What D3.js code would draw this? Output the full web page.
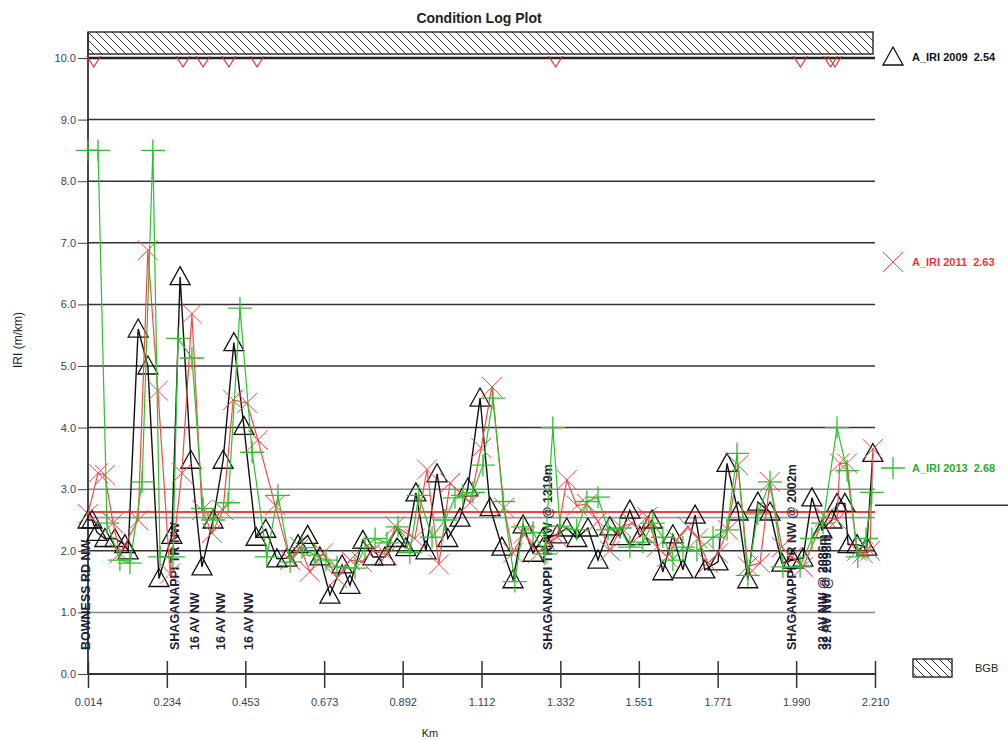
<!DOCTYPE html>
<html><head><meta charset="utf-8">
<script src="https://cdn.jsdelivr.net/npm/d3@7"></script>
<style>body{margin:0;background:#fff;} text{font-family:Arial,"Liberation Sans",sans-serif;}</style>
</head><body><svg id="c" width="1008" height="740"></svg>
<script>
// ---------- data ----------
const xTicks = [0.014,0.234,0.453,0.673,0.892,1.112,1.332,1.551,1.771,1.990,2.210];
const yTicks = [0,1,2,3,4,5,6,7,8,9,10];

const km2009 = [0.014,0.025,0.039,0.061,0.089,0.117,0.126,0.154,0.181,0.212,0.248,0.271,0.301,0.332,0.363,0.391,0.421,0.449,0.483,0.510,0.541,0.569,0.600,0.627,0.661,0.689,0.723,0.745,0.781,0.809,0.843,0.876,0.901,0.929,0.957,0.988,1.018,1.052,1.074,1.108,1.136,1.169,1.200,1.228,1.256,1.283,1.323,1.350,1.378,1.409,1.437,1.470,1.498,1.526,1.554,1.588,1.618,1.646,1.674,1.708,1.735,1.772,1.797,1.828,1.855,1.883,1.917,1.950,1.981,2.009,2.034,2.062,2.090,2.104,2.126,2.135,2.160,2.187,2.204];
const iri2009 = [2.5,2.5,2.3,2.2,2.2,2.1,2.0,5.6,5.0,1.55,2.25,6.45,3.47,1.74,2.5,3.47,5.38,4.02,2.22,2.35,1.87,1.88,2.1,2.25,1.9,1.28,1.77,1.44,2.17,1.9,1.9,2.2,2.05,2.94,2.0,3.25,2.2,2.53,3.02,4.48,2.7,2.06,1.53,2.42,1.96,2.2,2.26,2.37,2.2,2.37,1.85,2.39,2.23,2.66,2.23,2.5,1.66,2.26,1.69,2.58,1.69,1.82,3.42,2.63,1.53,2.79,2.63,1.8,1.85,1.88,2.86,2.34,2.5,2.77,2.77,2.1,2.1,2.06,3.58];

const km2011 = [0.014,0.042,0.061,0.084,0.103,0.154,0.181,0.209,0.243,0.276,0.304,0.332,0.360,0.391,0.419,0.458,0.488,0.536,0.578,0.606,0.633,0.670,0.709,0.745,0.778,0.809,0.848,0.871,0.926,0.960,0.993,1.024,1.080,1.111,1.141,1.175,1.200,1.230,1.270,1.297,1.323,1.350,1.378,1.406,1.437,1.470,1.501,1.532,1.560,1.574,1.602,1.630,1.657,1.688,1.716,1.744,1.772,1.800,1.828,1.855,1.889,1.917,1.950,1.978,2.009,2.070,2.104,2.112,2.132,2.160,2.176,2.196,2.204];
const iri2011 = [2.6,3.26,3.23,2.45,1.96,2.5,6.88,4.6,1.63,3.26,5.85,2.66,2.29,2.66,4.45,4.4,3.8,2.74,1.85,2.06,1.66,1.96,1.56,1.85,1.82,2.0,1.93,2.4,2.2,3.32,1.78,3.1,2.78,3.67,4.66,2.7,1.97,2.28,1.96,2.13,2.22,3.15,2.73,2.76,2.48,2.0,2.38,2.45,2.29,2.55,2.06,1.9,2.18,2.39,2.2,1.8,1.96,2.34,3.39,1.75,1.8,3.12,2.06,1.9,1.74,2.55,2.5,3.42,3.42,2.0,1.96,2.0,3.65];

const km2013 = [0.014,0.042,0.067,0.103,0.131,0.165,0.195,0.215,0.251,0.265,0.304,0.335,0.363,0.405,0.438,0.472,0.513,0.544,0.578,0.611,0.647,0.678,0.709,0.759,0.787,0.815,0.848,0.879,0.912,0.937,0.974,1.010,1.038,1.060,1.088,1.116,1.144,1.172,1.205,1.228,1.256,1.289,1.311,1.331,1.378,1.406,1.437,1.465,1.498,1.526,1.562,1.590,1.618,1.646,1.674,1.713,1.758,1.797,1.825,1.855,1.883,1.917,1.953,2.001,2.034,2.065,2.104,2.132,2.162,2.185,2.201];
const iri2013 = [8.5,8.5,2.45,1.85,1.8,3.12,8.5,1.9,1.9,5.45,5.13,2.69,2.5,2.78,5.94,3.6,1.9,2.9,1.82,2.05,1.93,1.85,1.74,1.72,2.05,2.2,2.13,2.39,1.97,2.9,2.22,2.5,2.86,2.9,2.95,3.39,4.48,2.8,1.5,2.39,2.3,1.95,4.0,2.4,2.34,2.8,2.87,2.34,2.37,2.06,2.14,2.45,2.22,1.85,2.06,2.0,2.22,2.34,3.58,1.6,2.6,3.12,1.74,1.74,2.2,2.45,4.0,3.3,1.9,2.2,2.95];

const seriesNames = ["A_IRI 2009","A_IRI 2011","A_IRI 2013"];
const seriesAvg = [2.54,2.63,2.68];
const refLineValue = 2.74;

const eventKm = [0.030,0.279,0.335,0.407,0.486,1.319,2.002,2.086,2.098];
const eventNames = ["BOWNESS RD NW","SHAGANAPPI TR NW","16 AV NW","16 AV NW","16 AV NW","SHAGANAPPI TR NW @ 1319m","SHAGANAPPI TR NW @ 2002m","32 AV NW @ 2086m","32 AV NW @ 2098m"];

// ---------- chart ----------
const svg = d3.select("#c");
const L = 88, R = 875, T = 58, B = 674;
const x = d3.scaleLinear().domain([0.014, 2.210]).range([L, R]);
const y = d3.scaleLinear().domain([0, 10]).range([B, T]);

const defs = svg.append("defs");
const pat = defs.append("pattern").attr("id","hatch").attr("patternUnits","userSpaceOnUse")
  .attr("width",8).attr("height",8);
pat.append("path").attr("d","M0,0 L8,8 M-4,4 L4,12 M4,-4 L12,4")
  .attr("stroke","#333").attr("stroke-width",1);

// title
svg.append("text").attr("x",479).attr("y",23).attr("text-anchor","middle")
  .attr("font-size",14).attr("font-weight","bold").attr("fill","#222").text("Condition Log Plot");

// BGB band
svg.append("rect").attr("x",L).attr("y",32).attr("width",R-L-2).attr("height",22)
  .attr("fill","url(#hatch)").attr("stroke","#333").attr("stroke-width",1.5);

// gridlines
const lightGrid = new Set([1,3]);
svg.append("g").selectAll("line").data(yTicks.filter(d=>d>0)).join("line")
  .attr("x1",L).attr("x2",R).attr("y1",d=>y(d)).attr("y2",d=>y(d))
  .attr("stroke",d=>d===10?"#222":(lightGrid.has(d)?"#888":"#333"))
  .attr("stroke-width",d=>d===10?2.5:1.5);

// average lines
svg.append("line").attr("x1",L).attr("x2",R).attr("y1",y(seriesAvg[0])).attr("y2",y(seriesAvg[0]))
  .attr("stroke","#999").attr("stroke-width",1.8);
svg.append("line").attr("x1",L).attr("x2",R).attr("y1",y(seriesAvg[1])).attr("y2",y(seriesAvg[1]))
  .attr("stroke","#f04040").attr("stroke-width",2);
svg.append("line").attr("x1",R).attr("x2",1008).attr("y1",y(refLineValue)).attr("y2",y(refLineValue))
  .attr("stroke","#333").attr("stroke-width",1.5);

// axes
const yAxis = d3.axisLeft(y).tickValues(yTicks).tickFormat(d3.format(".1f")).tickSize(10).tickPadding(2);
const gy = svg.append("g").attr("transform",`translate(${L},0)`).call(yAxis);
gy.select(".domain").remove();
gy.selectAll(".tick line").attr("stroke","#444").attr("stroke-width",1);
gy.selectAll(".tick text").attr("font-size",11).attr("fill","#34435e").attr("font-family","Arial,'Liberation Sans',sans-serif");
svg.append("line").attr("x1",L).attr("x2",L).attr("y1",32).attr("y2",B).attr("stroke","#333").attr("stroke-width",1.8);

const xAxis = d3.axisBottom(x).tickValues(xTicks).tickFormat(d3.format(".3f")).tickSize(14).tickPadding(10);
const gx = svg.append("g").attr("transform",`translate(0,${B})`).call(xAxis);
gx.select(".domain").remove();
gx.selectAll(".tick line").attr("stroke","#333").attr("stroke-width",1.5).attr("y1",-13);
gx.selectAll(".tick text").attr("font-size",11).attr("fill","#34435e").attr("font-family","Arial,'Liberation Sans',sans-serif");
svg.append("line").attr("x1",L).attr("x2",R).attr("y1",B).attr("y2",B).attr("stroke","#333").attr("stroke-width",1.8);

// axis titles
svg.append("text").attr("transform","translate(22,340) rotate(-90)").attr("text-anchor","middle")
  .attr("font-size",12).attr("fill","#222").text("IRI (m/km)");
svg.append("text").attr("x",430).attr("y",737).attr("text-anchor","middle")
  .attr("font-size",11).attr("fill","#222").text("Km");

// event labels
svg.append("g").selectAll("text").data(eventKm).join("text")
  .attr("transform",d=>`translate(${x(d)-4},650) rotate(-90)`)
  .attr("font-size",12.5).attr("font-weight","bold").attr("fill","#1e2236")
  .text((d,i)=>eventNames[i]);

// event markers (V at top)
svg.append("g").selectAll("path").data(eventKm).join("path")
  .attr("d",d=>{const cx=x(d), ty=y(10); return `M${cx-7},${ty-2}L${cx},${ty+9}L${cx+7},${ty-2}`;})
  .attr("fill","none").attr("stroke","#d83030").attr("stroke-width",1.2);

// series
const colors = ["#111","#f04a4a","#2fbf2f"];
const kms = [km2009, km2011, km2013];
const iris = [iri2009, iri2011, iri2013];
const lineGen = d3.line().x(d=>x(d[0])).y(d=>y(d[1]));

function marker(g, type, cx, cy, color){
  if(type===0){
    g.append("path").attr("d",`M${cx},${cy-10}L${cx+10},${cy+8}L${cx-10},${cy+8}Z`)
      .attr("fill","none").attr("stroke",color).attr("stroke-width",1.3);
  } else if(type===1){
    g.append("path").attr("d",`M${cx-10},${cy-10}L${cx+10},${cy+10}M${cx-10},${cy+10}L${cx+10},${cy-10}`)
      .attr("fill","none").attr("stroke",color).attr("stroke-width",1);
  } else {
    g.append("path").attr("d",`M${cx-12},${cy}L${cx+12},${cy}M${cx},${cy-11}L${cx},${cy+11}`)
      .attr("fill","none").attr("stroke",color).attr("stroke-width",1.3);
  }
}

[0,1,2].forEach(s=>{
  const pts = kms[s].map((k,i)=>[k, iris[s][i]]);
  const g = svg.append("g");
  g.append("path").datum(pts).attr("d",lineGen).attr("fill","none")
    .attr("stroke",colors[s]).attr("stroke-width",s===0?1.4:1.2);
  pts.forEach(p=>marker(g, s, x(p[0]), y(p[1]), colors[s]));
});

// legend
const legY = [57, 262, 468];
const legText = ["#111","#e03a3a","#2aaa2a"];
[0,1,2].forEach(s=>{
  const g = svg.append("g");
  marker(g, s, 893, legY[s], colors[s]);
  g.append("text").attr("x",912).attr("y",legY[s]+4).attr("font-size",11).attr("font-weight","bold")
    .attr("fill",legText[s]).style("white-space","pre").text(seriesNames[s]+"  "+seriesAvg[s].toFixed(2));
});
svg.append("rect").attr("x",913).attr("y",659).attr("width",39).attr("height",18)
  .attr("fill","url(#hatch)").attr("stroke","#333").attr("stroke-width",1.5);
svg.append("text").attr("x",975).attr("y",672).attr("font-size",11).attr("fill","#222").text("BGB");
</script></body></html>
